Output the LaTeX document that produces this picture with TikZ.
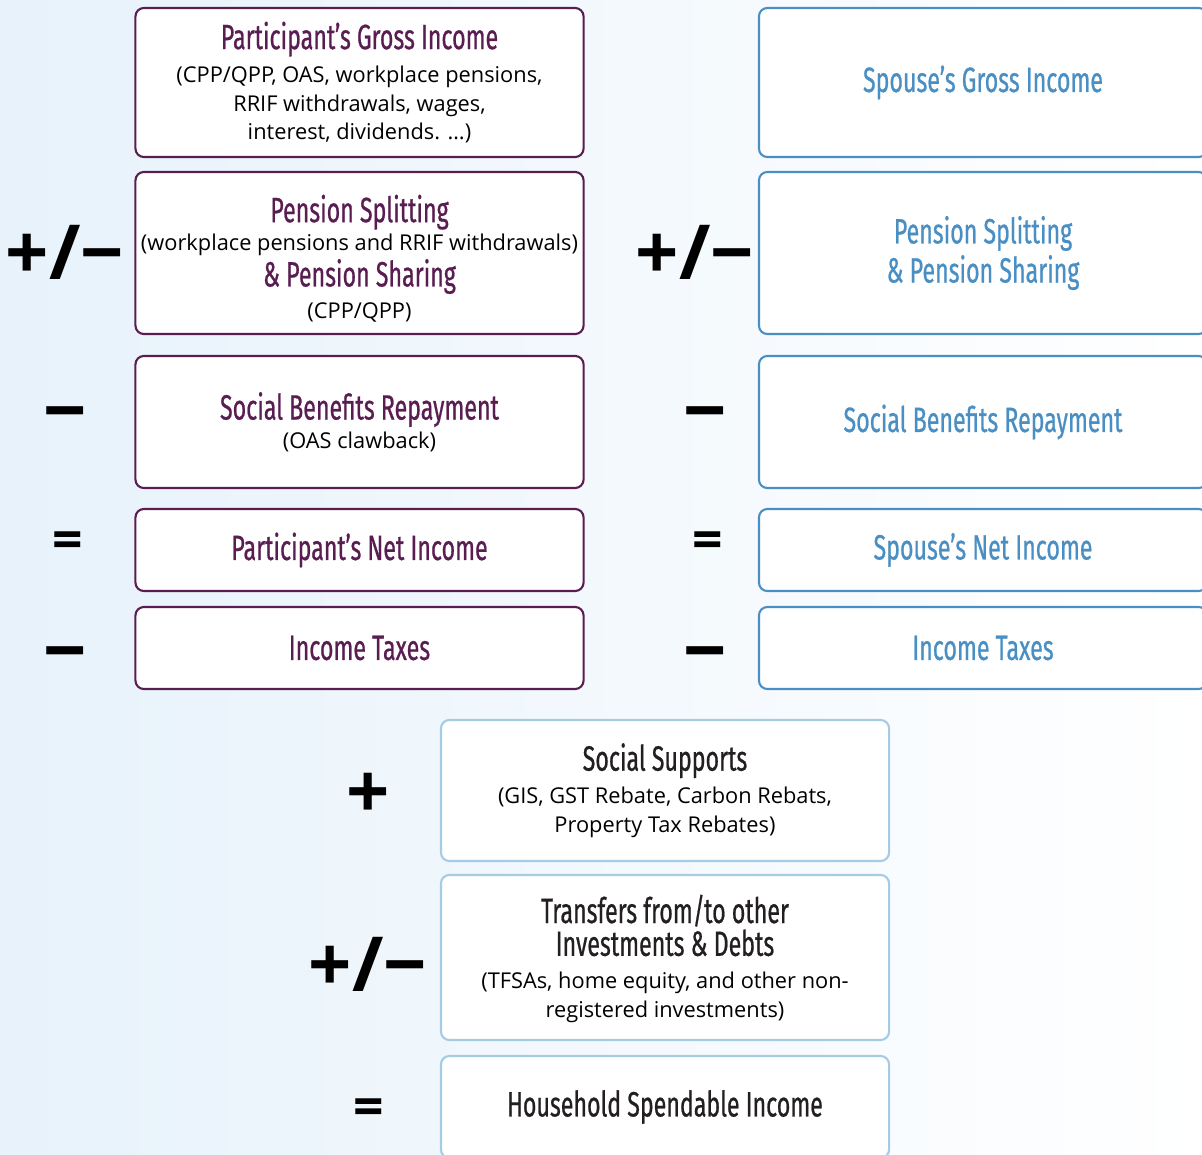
\documentclass[tikz,border=0pt]{standalone}
\usepackage{fontspec}
\setmainfont{Open Sans}
\newfontfamily\headfont[FakeStretch=0.66, FakeBold=0.6]{Fira Sans}
\usepackage{tikz}
\usetikzlibrary{positioning}
\usepackage{xcolor}

\definecolor{partpurple}{HTML}{5A1D52}
\definecolor{spouseblue}{HTML}{4A8FC4}
\definecolor{houseblue}{HTML}{A6CBE5}
\definecolor{darktext}{HTML}{231F20}
\definecolor{bgblue}{HTML}{E7F2FB}

\newcommand{\boxtitle}{\color{headcol}\headfont\fontsize{25}{28}\selectfont}
\newcommand{\bodyfont}{\fontsize{15.5}{20.5}\selectfont}
\newcommand{\opfont}{\fontsize{54}{54}\selectfont\bfseries}
\newcommand{\eqfont}{\fontsize{38}{38}\selectfont\bfseries}

\begin{document}
\begin{tikzpicture}[
        x=0.025cm, y=-0.025cm,
        box/.style={rectangle, draw, line width=1.5pt, rounded corners=6pt, fill=white, minimum width=11.2cm, align=center, inner sep=0pt, font=\bodyfont, text=black},
        pbox/.style={box, draw=partpurple, execute at begin node={\colorlet{headcol}{partpurple}}},
        sbox/.style={box, draw=spouseblue, execute at begin node={\colorlet{headcol}{spouseblue}}},
        hbox/.style={box, draw=houseblue, execute at begin node={\colorlet{headcol}{darktext}}},
        op/.style={font=\opfont, text=black, inner sep=0pt},
        eqop/.style={font=\eqfont, text=black, inner sep=0pt}
    ]
        % Canvas and background
        \useasboundingbox (0,0) rectangle (1202,1155);
        \clip (0,0) rectangle (1202,1155);
        \shade[left color=bgblue, right color=white] (0,0) rectangle (1202,1155);

        % Participant column
        \node[pbox, minimum height=3.725cm] (p_gross) at (359.5,82.5) {{\boxtitle Participant’s Gross Income}\\[3pt] (CPP/QPP, OAS, workplace pensions,\\ RRIF withdrawals, wages,\\ interest, dividends. …)};
        \node[pbox, minimum height=4.05cm] (p_split) at (359.5,253) {\rule{0pt}{27pt}{\boxtitle Pension Splitting}\\[0pt] (workplace pensions and RRIF withdrawals)\\[1pt] {\boxtitle \& Pension Sharing}\\[2pt] (CPP/QPP)};
        \node[pbox, minimum height=3.3cm] (p_repay) at (359.5,422) {{\boxtitle Social Benefits Repayment}\\ (OAS clawback)};
        \node[pbox, minimum height=2.05cm] (p_net) at (359.5,550) {{\boxtitle Participant’s Net Income}};
        \node[pbox, minimum height=2.05cm] (p_tax) at (359.5,648) {{\boxtitle Income Taxes}};

        % Spouse column
        \node[sbox, minimum height=3.725cm] (s_gross) at (983,82.5) {{\boxtitle Spouse’s Gross Income}};
        \node[sbox, minimum height=4.05cm] (s_split) at (983,253) {{\boxtitle Pension Splitting}\\[2pt] {\boxtitle \& Pension Sharing}};
        \node[sbox, minimum height=3.3cm] (s_repay) at (983,422) {{\boxtitle Social Benefits Repayment}};
        \node[sbox, minimum height=2.05cm] (s_net) at (983,550) {{\boxtitle Spouse’s Net Income}};
        \node[sbox, minimum height=2.05cm] (s_tax) at (983,648) {{\boxtitle Income Taxes}};

        % Household column
        \node[hbox, minimum height=3.525cm] (h_support) at (665,790.5) {{\boxtitle Social Supports}\\[3pt] (GIS, GST Rebate, Carbon Rebats,\\ Property Tax Rebates)};
        \node[hbox, minimum height=4.125cm] (h_transfer) at (665,957.5) {\rule{0pt}{22pt}{\boxtitle Transfers from/to other}\\[1pt] {\boxtitle Investments \& Debts}\\[3pt] (TFSAs, home equity, and other non-\\ registered investments)};
        \node[hbox, minimum height=2.55cm] (h_spend) at (665,1107) {{\boxtitle Household Spendable Income}};

        % Operators
        \node[op] (op_p_split) at (65,252) {+/−};
        \node[op] (op_p_repay) at (65,422) {−};
        \node[eqop] (op_p_net) at (68,545) {=};
        \node[op] (op_p_tax) at (65,662) {−};
        \node[op] (op_s_split) at (695,252) {+/−};
        \node[op] (op_s_repay) at (705,422) {−};
        \node[eqop] (op_s_net) at (708,545) {=};
        \node[op] (op_s_tax) at (705,662) {−};
        \node[op] (op_h_support) at (368,796) {+};
        \node[op] (op_h_transfer) at (368,964) {+/−};
        \node[eqop] (op_h_spend) at (369,1112) {=};

    \end{tikzpicture}
\end{document}
